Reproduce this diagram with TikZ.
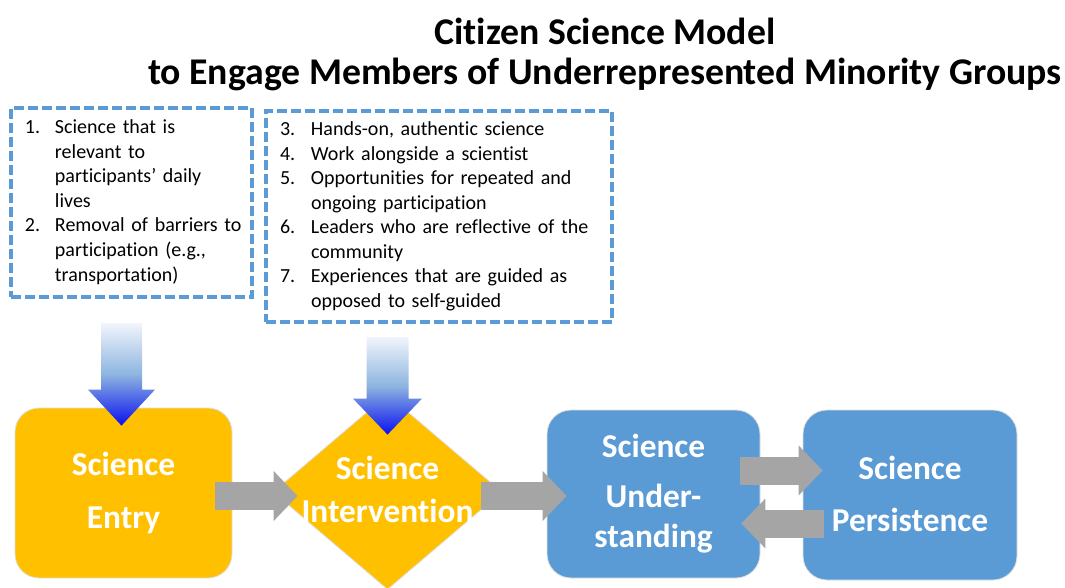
\documentclass[tikz,border=0pt]{standalone}
\usepackage{fontspec}
\setmainfont{Carlito}[RawFeature={-liga;-clig}]
\usetikzlibrary{shapes.geometric,arrows.meta,calc}
\definecolor{cyel}{HTML}{FFC000}
\definecolor{cblue}{HTML}{5B9BD5}
\definecolor{cgray}{HTML}{A5A5A5}
\definecolor{ctop}{HTML}{F2F5FB}
\definecolor{cmid}{HTML}{8DB5E0}
\definecolor{ctip}{HTML}{0A10F0}
\begin{document}
\begin{tikzpicture}[x=0.75pt,y=-0.75pt,
  listbox/.style={draw=cblue, line width=2.8pt, dash pattern=on 7.2pt off 3.3pt,
    rectangle, inner xsep=14*0.75pt, inner ysep=0pt, font=\fontsize{15}{18.4}\selectfont},
  stage/.style={rectangle, rounded corners=18pt, draw=white!75!gray, line width=0.6pt,
    text=white, font=\bfseries\fontsize{25}{30}\selectfont, align=center, inner sep=0pt},
  yel/.style={fill=cyel}, blu/.style={fill=cblue},
  blockarrow/.style={cgray, line width=28*0.75pt,
    -{Triangle[length=24*0.75pt, width=50*0.75pt, line width'=0pt]}},
  downarrow/.style={top color=ctop, bottom color=ctip, middle color=cmid, draw=none}
]
\useasboundingbox (0,0) rectangle (1065,588);

% title
\node[font=\bfseries\fontsize{28.3}{30}\selectfont, align=center] (title) at (605,54)
  {Citizen Science Model\\to Engage Members of Underrepresented Minority Groups};

% lists
\node[listbox, minimum width=241*0.75pt, minimum height=189*0.75pt, text width=213*0.75pt]
  (list1) at (131.5,202.5) {\noindent\begin{tabular}{@{}p{22.5pt}@{}l@{}}
  1. & Science that is\\
     & relevant to\\
     & participants’ daily\\
     & lives\\
  2. & Removal of barriers to\\
     & participation (e.g.,\\
     & transportation)
  \end{tabular}};

\node[listbox, minimum width=346*0.75pt, minimum height=211*0.75pt, text width=318*0.75pt]
  (list2) at (439,216.5) {\noindent\begin{tabular}{@{}p{23.25pt}@{}l@{}}
  3. & Hands-on, authentic science\\
  4. & Work alongside a scientist\\
  5. & Opportunities for repeated and\\
     & ongoing participation\\
  6. & Leaders who are reflective of the\\
     & community\\
  7. & Experiences that are guided as\\
     & opposed to self-guided
  \end{tabular}};

% stages
\node[stage, yel, minimum width=217*0.75pt, minimum height=170*0.75pt] (entry) at (123.5,493)
  {Science\\[9.75pt]Entry};
\node[diamond, fill=cyel, draw=white!75!gray, line width=0.6pt, inner sep=0pt,
  minimum width=229*0.75pt, minimum height=195*0.75pt, text=white,
  font=\bfseries\fontsize{25}{30}\selectfont] (inter) at (387.5,492)
  {\makebox[0pt]{\raisebox{-14pt}{\smash{\begin{tabular}{@{}c@{}}Science\\[2.25pt]Intervention\end{tabular}}}}};
\node[stage, blu, minimum width=213*0.75pt, minimum height=168*0.75pt] (und) at (653.5,494)
  {Science\\[7.5pt]Under-\\standing};
\node[stage, blu, minimum width=214*0.75pt, minimum height=170*0.75pt] (pers) at (910,495)
  {\raisebox{2pt}{Science}\\[9pt]\raisebox{2pt}{Persistence}};

% down arrows
\coordinate (d1top) at ($(list1.south -| entry.north)+(-2,24)$);
\coordinate (d1tip) at ($(entry.north)+(-2,18)$);
\shade[downarrow] ($(d1top)+(-20.5,0)$) -- ($(d1top)+(20.5,0)$) -- ($(d1tip)+(20.5,-36)$)
  -- ($(d1tip)+(33.5,-36)$) -- (d1tip) -- ($(d1tip)+(-33.5,-36)$) -- ($(d1tip)+(-20.5,-36)$) -- cycle;

\coordinate (d2top) at ($(list2.south -| inter.north)+(0,13)$);
\coordinate (d2tip) at ($(inter.north)+(0,40.5)$);
\shade[downarrow] ($(d2top)+(-21,0)$) -- ($(d2top)+(21,0)$) -- ($(d2tip)+(21,-36)$)
  -- ($(d2tip)+(34.5,-36)$) -- (d2tip) -- ($(d2tip)+(-34.5,-36)$) -- ($(d2tip)+(-21,-36)$) -- cycle;

% block arrows
\draw[blockarrow] ($(entry.east)+(-17,3)$) -- ($(inter.west)+(25,4)$);
\draw[blockarrow] ($(inter.east)+(-21,4)$) -- ($(und.west)+(20,2)$);
\draw[blockarrow] ($(und.east)+(-20,-23.5)$) -- ($(pers.west)+(20,-24.5)$);
\draw[blockarrow] ($(pers.west)+(21,28.5)$) -- ($(und.east)+(-19,29.5)$);
\end{tikzpicture}
\end{document}
